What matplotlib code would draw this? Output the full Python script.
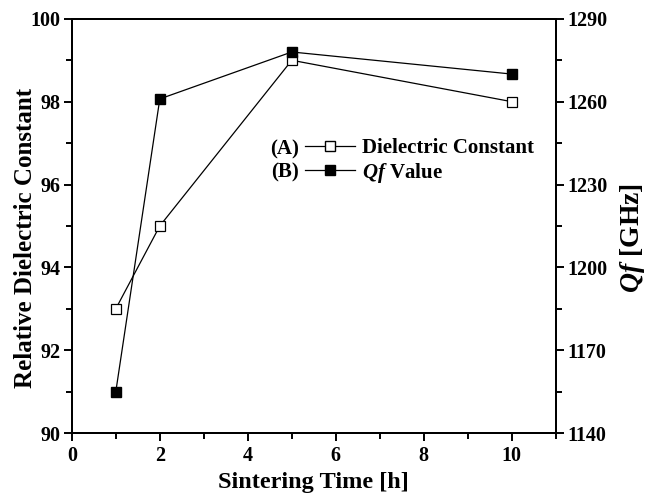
import matplotlib.pyplot as plt
from matplotlib.lines import Line2D
from matplotlib.ticker import MultipleLocator

plt.rcParams['font.family'] = 'Liberation Serif'
plt.rcParams['font.weight'] = 'bold'
plt.rcParams['mathtext.fontset'] = 'custom'
plt.rcParams['mathtext.it'] = 'Liberation Serif:bold:italic'
plt.rcParams['mathtext.rm'] = 'Liberation Serif:bold'

# Daten
time_h = [1, 2, 5, 10]
dielectric = [93, 95, 99, 98]
qf_ghz = [1155, 1261, 1278, 1270]

fig = plt.figure(figsize=(6.47, 4.96), dpi=100)
ax = fig.add_axes([0.111, 0.127, 0.748, 0.835])
ax2 = ax.twinx()

ax.plot(time_h, dielectric, color='black', lw=0.9, marker='s', ms=6.5,
        mfc='white', mec='black', mew=0.9)
ax2.plot(time_h, qf_ghz, color='black', lw=0.9, marker='s', ms=7,
         mfc='black', mec='black')

ax.set_xlim(0, 11)
ax.set_ylim(90, 100)
ax2.set_ylim(1140, 1290)
ax.xaxis.set_major_locator(MultipleLocator(2))
ax.xaxis.set_minor_locator(MultipleLocator(1))
ax.yaxis.set_major_locator(MultipleLocator(2))
ax.yaxis.set_minor_locator(MultipleLocator(1))
ax2.yaxis.set_major_locator(MultipleLocator(30))
ax2.yaxis.set_minor_locator(MultipleLocator(15))

for a in (ax, ax2):
    for s in a.spines.values():
        s.set_linewidth(1.4)
    a.tick_params(which='major', direction='out', length=6, width=1.4,
                  labelsize=14.5, pad=2)
    a.tick_params(which='minor', direction='out', length=4.5, width=1.4)
ax.tick_params(axis='x', pad=3)

ax.set_xlabel('Sintering Time [h]', fontsize=17.5, fontweight='bold', labelpad=5)
ax.set_ylabel('Relative Dielectric Constant', fontsize=18, fontweight='bold')
ax.yaxis.set_label_coords(-0.072, 0.471)
ax2.set_ylabel(r'$\mathit{Qf}$ [GHz]', fontsize=20, fontweight='bold')
ax2.yaxis.set_label_coords(1.128, 0.471)

# Legende
handles = [
    Line2D([], [], color='black', lw=0.9, marker='s', ms=6.5, mfc='white', mec='black'),
    Line2D([], [], color='black', lw=0.9, marker='s', ms=7, mfc='black', mec='black'),
]
labels = ['Dielectric Constant', r'$\mathit{Qf}$ Value']
ax.legend(handles, labels, loc='center left', bbox_to_anchor=(0.481, 0.656),
          frameon=False, fontsize=15, handlelength=2.4, handletextpad=0.35,
          labelspacing=0.12, borderaxespad=0, borderpad=0)
ax.text(0.469, 0.684, '(A)', transform=ax.transAxes, fontsize=15,
        fontweight='bold', ha='right', va='center')
ax.text(0.469, 0.628, '(B)', transform=ax.transAxes, fontsize=15,
        fontweight='bold', ha='right', va='center')

fig.savefig('out.png', dpi=100)
